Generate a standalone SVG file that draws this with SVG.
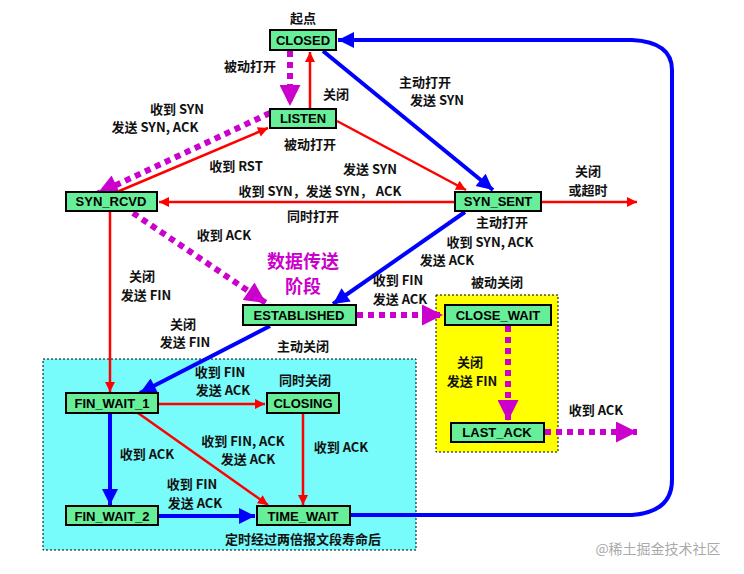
<svg xmlns="http://www.w3.org/2000/svg" width="744" height="574" viewBox="0 0 744 574">
<style>
.n rect{fill:#66ee99;stroke:#000;stroke-width:2}
.n text{font:bold 13px "Liberation Sans","Noto Sans CJK SC",sans-serif;text-anchor:middle}
.l{font:bold 13px "Noto Sans CJK SC","Liberation Sans",sans-serif;text-anchor:middle;fill:#111}
.r{stroke:#f00;stroke-width:2.5;fill:none}
.b{stroke:#00f;stroke-width:4;fill:none}
.m{stroke:#c0c;stroke-width:6;fill:none;stroke-dasharray:6 5}
</style>
<defs>
<marker id="ar" viewBox="0 0 10 10" refX="10" refY="5" markerWidth="6" markerHeight="4" orient="auto" markerUnits="strokeWidth"><path d="M0,0L10,5L0,10z" fill="#f00"/></marker>
<marker id="ab" viewBox="0 0 10 10" refX="10" refY="5" markerWidth="5" markerHeight="4" orient="auto" markerUnits="strokeWidth"><path d="M0,0L10,5L0,10z" fill="#00f"/></marker>
<marker id="am" viewBox="0 0 10 10" refX="10" refY="5" markerWidth="5" markerHeight="3.5" orient="auto" markerUnits="strokeWidth"><path d="M0,0L10,5L0,10z" fill="#c0c"/></marker>
</defs>
<rect width="744" height="574" fill="#fff"/>
<rect x="43" y="359" width="373" height="191" fill="#77fbfb" stroke="#000" stroke-dasharray="2 2"/>
<rect x="436" y="295" width="122" height="157" fill="#ffff00" stroke="#000" stroke-dasharray="2 2"/>
<g id="edges">
<path class="m" d="M290,51V106" marker-end="url(#am)"/>
<path class="r" d="M310,108V52" marker-end="url(#ar)"/>
<path class="b" d="M323,51L493,190" marker-end="url(#ab)"/>
<path class="r" d="M337,121L466,190" marker-end="url(#ar)"/>
<path class="r" d="M455,202H159" marker-end="url(#ar)"/>
<path class="r" d="M542,202H637" marker-end="url(#ar)"/>
<path class="m" d="M270,113L97,194" marker-end="url(#am)"/>
<path class="r" d="M117,192L268,128" marker-end="url(#ar)"/>
<path class="m" d="M133,213L266,303" marker-end="url(#am)"/>
<path class="b" d="M465,212L333,304" marker-end="url(#ab)"/>
<path class="r" d="M110,212V392" marker-end="url(#ar)"/>
<path class="b" d="M270,326L140,393" marker-end="url(#ab)"/>
<path class="m" d="M357,315H443" marker-end="url(#am)"/>
<path class="m" d="M508,326V421" marker-end="url(#am)"/>
<path class="m" d="M545,432H637" marker-end="url(#am)"/>
<path class="r" d="M159,404H265" marker-end="url(#ar)"/>
<path class="r" d="M138,413L268,505" marker-end="url(#ar)"/>
<path class="r" d="M303,414V505" marker-end="url(#ar)"/>
<path class="b" d="M110,414V505" marker-end="url(#ab)"/>
<path class="b" d="M159,516H255" marker-end="url(#ab)"/>
<path class="b" d="M351,515H632Q672,512 672,480V70Q672,42 632,40H338" marker-end="url(#ab)"/>
</g>
<g id="CLOSED" class="n"><rect x="270" y="30" width="66" height="20"/><text x="303" y="45">CLOSED</text></g>
<g id="LISTEN" class="n"><rect x="270" y="109" width="66" height="19"/><text x="303" y="123">LISTEN</text></g>
<g id="SYN_RCVD" class="n"><rect x="66" y="192" width="91" height="19"/><text x="111" y="206">SYN_RCVD</text></g>
<g id="SYN_SENT" class="n"><rect x="455" y="192" width="86" height="19"/><text x="498" y="206">SYN_SENT</text></g>
<g id="ESTABLISHED" class="n"><rect x="243" y="305" width="113" height="20"/><text x="299" y="320">ESTABLISHED</text></g>
<g id="CLOSE_WAIT" class="n"><rect x="445" y="305" width="106" height="20"/><text x="498" y="320">CLOSE_WAIT</text></g>
<g id="LAST_ACK" class="n"><rect x="451" y="423" width="93" height="19"/><text x="497" y="437">LAST_ACK</text></g>
<g id="FIN_WAIT_1" class="n"><rect x="66" y="393" width="92" height="20"/><text x="112" y="408">FIN_WAIT_1</text></g>
<g id="CLOSING" class="n"><rect x="267" y="393" width="72" height="20"/><text x="303" y="408">CLOSING</text></g>
<g id="FIN_WAIT_2" class="n"><rect x="66" y="506" width="92" height="19"/><text x="112" y="521">FIN_WAIT_2</text></g>
<g id="TIME_WAIT" class="n"><rect x="257" y="506" width="93" height="19"/><text x="303" y="521">TIME_WAIT</text></g>
<g id="labels">
<text class="l" x="303" y="23">起点</text>
<text class="l" x="250" y="71">被动打开</text>
<text class="l" x="336" y="99">关闭</text>
<text class="l" x="177" y="114">收到 SYN</text>
<text class="l" x="155" y="132">发送 SYN, ACK</text>
<text class="l" x="310" y="149">被动打开</text>
<text class="l" x="236" y="171">收到 RST</text>
<text class="l" x="370" y="174">发送 SYN</text>
<text class="l" x="320" y="196">收到 SYN，发送 SYN， ACK</text>
<text class="l" x="313" y="221">同时打开</text>
<text class="l" x="224" y="240">收到 ACK</text>
<text class="l" x="425" y="87">主动打开</text>
<text class="l" x="437" y="105">发送 SYN</text>
<text class="l" x="588" y="176">关闭</text>
<text class="l" x="588" y="195">或超时</text>
<text class="l" x="502" y="227">主动打开</text>
<text class="l" x="490" y="247">收到 SYN, ACK</text>
<text class="l" x="447" y="265">发送 ACK</text>
<text class="l" x="398" y="285">收到 FIN</text>
<text class="l" x="400" y="304">发送 ACK</text>
<text class="l" x="497" y="287">被动关闭</text>
<text class="l" x="303" y="268" style="font-size:18px;fill:#c0c">数据传送</text>
<text class="l" x="303" y="293" style="font-size:18px;fill:#c0c">阶段</text>
<text class="l" x="142" y="281">关闭</text>
<text class="l" x="146" y="300">发送 FIN</text>
<text class="l" x="183" y="329">关闭</text>
<text class="l" x="185" y="347">发送 FIN</text>
<text class="l" x="303" y="351">主动关闭</text>
<text class="l" x="220" y="377">收到 FIN</text>
<text class="l" x="223" y="395">发送 ACK</text>
<text class="l" x="305" y="385">同时关闭</text>
<text class="l" x="147" y="459">收到 ACK</text>
<text class="l" x="243" y="446">收到 FIN, ACK</text>
<text class="l" x="248" y="464">发送 ACK</text>
<text class="l" x="341" y="452">收到 ACK</text>
<text class="l" x="192" y="489">收到 FIN</text>
<text class="l" x="195" y="508">发送 ACK</text>
<text class="l" x="303" y="544">定时经过两倍报文段寿命后</text>
<text class="l" x="470" y="367">关闭</text>
<text class="l" x="472" y="386">发送 FIN</text>
<text class="l" x="596" y="415">收到 ACK</text>
<text class="l" x="658" y="554" style="font-weight:normal;font-size:14px;fill:#aaa">@稀土掘金技术社区</text>
</g>
</svg>
